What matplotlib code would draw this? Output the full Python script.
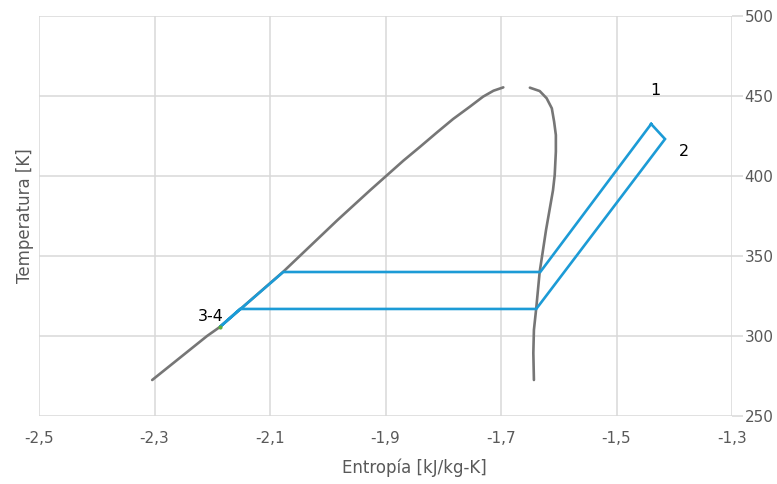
import matplotlib
matplotlib.use("Agg")
import matplotlib.pyplot as plt

# Saturation dome (liquid side)
liq_s = [-2.304, -2.209, -2.187, -2.077, -1.983, -1.926, -1.902,
         -1.869, -1.840, -1.811, -1.783, -1.754, -1.731, -1.713, -1.696]
liq_T = [272.5, 300.0, 305.6, 340.2, 372.5, 391.3, 399.0,
         409.6, 418.3, 427.2, 435.6, 443.3, 449.6, 453.3, 455.4]
# Saturation dome (vapour side)
vap_s = [-1.650, -1.633, -1.621, -1.612, -1.608, -1.605, -1.605, -1.607, -1.610,
         -1.622, -1.629, -1.633, -1.639, -1.643, -1.644, -1.643]
vap_T = [455.2, 453.1, 448.6, 442.3, 433.9, 425.6, 415.2, 400.6, 391.0,
         366.3, 349.6, 340.2, 317.3, 303.8, 289.4, 272.5]
# Cycle
cyc_s = [-1.440, -1.416, -1.639, -2.152, -2.187, -2.077, -1.632, -1.440]
cyc_T = [432.5, 423.1, 316.9, 316.9, 305.6, 340.0, 340.0, 432.5]

# Labels
lab_txt = ["1", "2", "3-4"]
lab_s = [-1.433, -1.383, -2.202]
lab_T = [453.5, 415.0, 312.0]

xticks = [-2.5, -2.3, -2.1, -1.9, -1.7, -1.5, -1.3]
xtick_labels = ["-2,5", "-2,3", "-2,1", "-1,9", "-1,7", "-1,5", "-1,3"]
yticks = [250, 300, 350, 400, 450, 500]

grid_c = "#d9d9d9"
txt_c = "#595959"

plt.rcParams['font.family'] = ['DejaVu Sans']
fig = plt.figure(figsize=(7.77, 4.84), dpi=100)
ax = fig.add_axes([39/777, 1-416/484, (732-39)/777, (416-16)/484])

ax.plot(liq_s, liq_T, color="#767676", lw=1.9, solid_capstyle='round',
        solid_joinstyle='round', zorder=3)
ax.plot(vap_s, vap_T, color="#767676", lw=1.9, solid_capstyle='round',
        solid_joinstyle='round', zorder=3)
ax.plot(cyc_s, cyc_T, color="#1c9bd6", lw=1.9, solid_joinstyle='miter', zorder=4)
ax.plot([cyc_s[4]], [cyc_T[4]], 'o', color="#5aab3c", ms=2, zorder=5)

for t, s, T in zip(lab_txt, lab_s, lab_T):
    ax.text(s, T, t, ha='center', va='center', fontsize=11.5, color='black', zorder=6)

ax.set_xlim(-2.5, -1.3)
ax.set_ylim(250, 500)
ax.set_xticks(xticks)
ax.set_xticklabels(xtick_labels)
ax.set_yticks(yticks)
ax.yaxis.tick_right()
ax.grid(True, color=grid_c, lw=1.1, zorder=0)
for sp in ax.spines.values():
    sp.set_visible(False)
ax.tick_params(axis='x', length=0, pad=11, labelsize=11, labelcolor=txt_c)
ax.tick_params(axis='y', length=8, width=1.1, color=grid_c, pad=1, labelsize=11, labelcolor=txt_c)

fig.text(414/777, 1-468/484, "Entropía [kJ/kg-K]", ha='center', va='center', fontsize=12, color=txt_c)
fig.text(25/777, 1-216/484, "Temperatura [K]", ha='center', va='center', rotation=90, fontsize=12, color=txt_c)

fig.savefig("out.png", dpi=100)
